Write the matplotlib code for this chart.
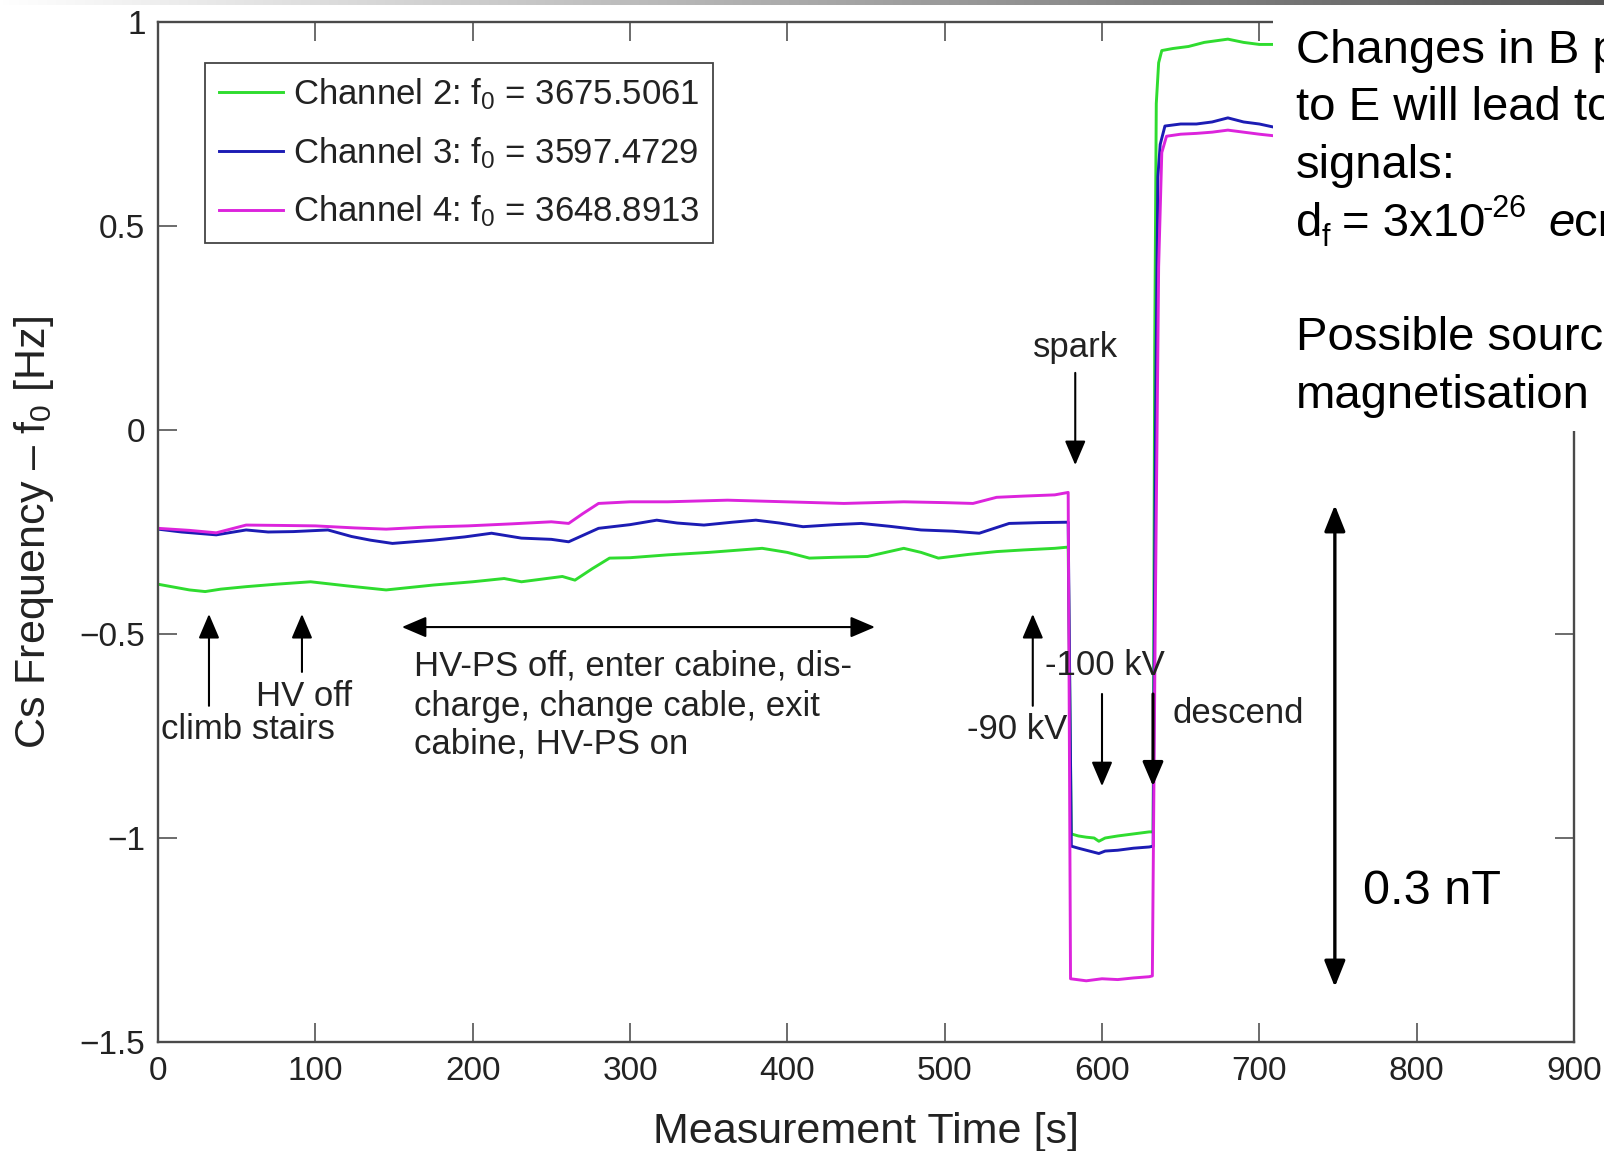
import numpy as np
import matplotlib
matplotlib.use("Agg")
import matplotlib.pyplot as plt
from matplotlib.patches import Rectangle

plt.rcParams['font.family'] = ['Liberation Sans', 'DejaVu Sans']
plt.rcParams['mathtext.fontset'] = 'custom'
plt.rcParams['mathtext.rm'] = 'Liberation Sans'
plt.rcParams['mathtext.it'] = 'Liberation Sans:italic'
plt.rcParams['mathtext.bf'] = 'Liberation Sans:bold'

# ---- measured frequency offsets (Hz) vs. time (s) ----
t_ch2 = [0, 10, 20, 30, 40, 56, 75, 97, 120, 145, 160, 175, 200, 220, 231, 245, 257, 265,
         276, 287, 300, 324, 350, 384, 400, 414, 430, 451, 474, 485, 496, 515, 533, 550,
         570, 578.5, 580.5, 585, 590, 595, 598, 602, 610, 620, 630, 632.5, 633.5, 634.5,
         636, 638, 645, 655, 665, 680, 690, 700, 712]
v_ch2 = [-0.378, -0.385, -0.392, -0.396, -0.39, -0.384, -0.378, -0.372, -0.382, -0.392,
         -0.386, -0.38, -0.372, -0.364, -0.372, -0.365, -0.359, -0.368, -0.34, -0.314,
         -0.313, -0.306, -0.300, -0.290, -0.300, -0.314, -0.312, -0.310, -0.290, -0.300,
         -0.314, -0.305, -0.298, -0.294, -0.290, -0.287, -0.99, -0.995, -0.998, -1.0,
         -1.008, -1.0, -0.995, -0.99, -0.985, -0.985, 0.2, 0.8, 0.9, 0.93, 0.935, 0.94,
         0.95, 0.958, 0.95, 0.945, 0.945]

t_ch3 = [0, 15, 37, 56, 70, 86, 108, 123, 135, 149, 175, 195, 212, 231, 250, 261, 280,
         300, 317, 330, 347, 365, 380, 395, 410, 430, 447, 465, 485, 505, 522, 541, 560,
         578.5, 580.5, 585, 590, 598, 602, 610, 620, 630, 632.5, 634, 635.5, 637, 640,
         650, 660, 670, 680, 690, 700, 712]
v_ch3 = [-0.243, -0.25, -0.257, -0.245, -0.25, -0.249, -0.245, -0.261, -0.27, -0.278,
         -0.27, -0.262, -0.253, -0.265, -0.268, -0.274, -0.241, -0.232, -0.221, -0.228,
         -0.233, -0.226, -0.221, -0.228, -0.237, -0.232, -0.229, -0.236, -0.245, -0.248,
         -0.253, -0.229, -0.227, -0.226, -1.02, -1.025, -1.03, -1.038, -1.032, -1.03,
         -1.025, -1.022, -1.02, 0.0, 0.62, 0.70, 0.745, 0.75, 0.75, 0.755, 0.765, 0.755,
         0.75, 0.74]

t_ch4 = [0, 20, 37, 56, 80, 100, 125, 145, 170, 197, 225, 250, 261, 270, 280, 300, 324,
         362, 399, 436, 474, 500, 518, 533, 550, 570, 578.5, 580, 590, 600, 610, 620, 630,
         632, 634, 636, 638, 641, 650, 660, 670, 680, 690, 700, 712]
v_ch4 = [-0.241, -0.246, -0.252, -0.233, -0.234, -0.235, -0.24, -0.243, -0.238, -0.235,
         -0.23, -0.225, -0.229, -0.205, -0.18, -0.176, -0.176, -0.172, -0.176, -0.18,
         -0.176, -0.178, -0.18, -0.165, -0.162, -0.159, -0.153, -1.345, -1.35, -1.345,
         -1.347, -1.343, -1.34, -1.338, -0.4, 0.4, 0.68, 0.72, 0.725, 0.727, 0.73, 0.735,
         0.73, 0.725, 0.72]

labels = ['Channel 2: f$_0$ = 3675.5061',
          'Channel 3: f$_0$ = 3597.4729',
          'Channel 4: f$_0$ = 3648.8913']
colors = ['#2fdc2f', '#1c1cb4', '#dc24dc']

x_ticks = [0, 100, 200, 300, 400, 500, 600, 700, 800, 900]
y_ticks = [-1.5, -1, -0.5, 0, 0.5, 1]

# ---- figure ----
W, H = 1604, 1151
fig = plt.figure(figsize=(W / 100, H / 100), dpi=100)
fig.patch.set_facecolor('white')

ax = fig.add_axes([158 / W, 1 - 1042 / H, 1416 / W, 1020 / H])
for t, v, c, lab in zip([t_ch2, t_ch3, t_ch4], [v_ch2, v_ch3, v_ch4], colors, labels):
    ax.plot(t, v, color=c, lw=2.1, label=lab, solid_joinstyle='round')

ax.set_xlim(0, 900)
ax.set_ylim(-1.5, 1)
ax.set_xticks(x_ticks)
ax.set_yticks(y_ticks)
ax.set_xticklabels([str(v) for v in x_ticks])
ax.set_yticklabels(['\u22121.5', '\u22121', '\u22120.5', '0', '0.5', '1'])
ax.tick_params(direction='in', top=True, right=True, length=14, width=1.1,
               color='#444444', labelsize=24, labelcolor='#222222')
ax.tick_params(axis='x', pad=10)
ax.tick_params(axis='y', pad=9)
for s in ax.spines.values():
    s.set_color('#4a4a4a')
    s.set_linewidth(1.7)

ax.set_xlabel('Measurement Time [s]', fontsize=31, color='#222222', labelpad=18)
ax.set_ylabel('Cs Frequency \u2013 f$_0$ [Hz]', fontsize=31, color='#222222', labelpad=17)

leg = ax.legend(loc='upper left', bbox_to_anchor=(0.0332, 0.9598), borderaxespad=0,
                fontsize=25, handlelength=1.87, handletextpad=0.26, borderpad=0.39,
                labelspacing=0.66, fancybox=False, framealpha=1, edgecolor='#444444')
leg.get_frame().set_linewidth(1.3)
for txt in leg.get_texts():
    txt.set_color('#222222')

# ---- event annotations ----
akw = dict(arrowstyle='-|>,head_length=0.75,head_width=0.32', color='black', lw=1.5,
           shrinkA=0, shrinkB=0, mutation_scale=20)
ann_fs = 25
tc = '#222222'

def arrow(x0, y0, x1, y1, **kw):
    props = dict(akw)
    props.update(kw)
    ax.annotate('', xy=(x1, y1), xytext=(x0, y0), arrowprops=props, zorder=6)

arrow(32.4, -0.676, 32.4, -0.451)      # climb stairs
arrow(91.5, -0.593, 91.5, -0.451)      # HV off
arrow(556, -0.676, 556, -0.451)        # -90 kV
arrow(583, 0.140, 583, -0.086)         # spark
arrow(600, -0.647, 600, -0.873)        # -100 kV
arrow(632.4, -0.647, 632.4, -0.873, lw=2.2)  # descend
ax.annotate('', xy=(455.7, -0.483), xytext=(155, -0.483), zorder=6,
            arrowprops=dict(akw, arrowstyle='<|-|>,head_length=0.75,head_width=0.32'))

ax.text(57, -0.733, 'climb stairs', fontsize=ann_fs, color=tc, ha='center', va='center')
ax.text(93, -0.654, 'HV off', fontsize=ann_fs, color=tc, ha='center', va='center')
for yy, s in zip([-0.579, -0.677, -0.770],
                 ['HV-PS off, enter cabine, dis-', 'charge, change cable, exit',
                  'cabine, HV-PS on']):
    ax.text(163, yy, s, fontsize=ann_fs, color=tc, ha='left', va='center')
ax.text(578, -0.734, '-90 kV', fontsize=ann_fs, color=tc, ha='right', va='center')
ax.text(564, -0.578, '-100 kV', fontsize=ann_fs, color=tc, ha='left', va='center')
ax.text(645, -0.696, 'descend', fontsize=ann_fs, color=tc, ha='left', va='center')
ax.text(583, 0.201, 'spark', fontsize=ann_fs, color=tc, ha='center', va='center')

# ---- slide overlay: note panel and field scale ----
fig.add_artist(Rectangle((1273 / W, 1 - 431 / H), (W - 1273) / W, 431 / H,
                         transform=fig.transFigure, facecolor='white',
                         edgecolor='none', zorder=5))

def note(x, yb, s, size=34, **kw):
    fig.text(x / W, 1 - yb / H, s, fontsize=size, color='black', ha='left',
             va='baseline', zorder=6, **kw)

for yb, s in [(63, 'Changes in B p'), (120.5, 'to E will lead to'), (178, 'signals:'),
              (350.5, 'Possible sourc'), (408, 'magnetisation')]:
    note(1296, yb, s)
# d_f = 3x10^-26 ecm, set piece by piece
note(1296, 235.5, 'd')
note(1322, 246, 'f', size=22)
note(1342, 235.5, '= 3x10')
note(1483, 217, '-26', size=22)
note(1548, 235.5, 'e', style='italic')
note(1574, 235.5, 'cm')

ax.annotate('', xy=(748, -0.184), xytext=(748, -1.365), zorder=6,
            arrowprops=dict(arrowstyle='<|-|>,head_length=0.8,head_width=0.32',
                            color='black', lw=2.4, shrinkA=0, shrinkB=0,
                            mutation_scale=20))
ax.text(766, -1.13, '0.3 nT', fontsize=35, color='black', ha='left', va='center')

# top title-bar gradient
gax = fig.add_axes([0, 1 - 5 / H, 1, 5 / H], zorder=7)
grad = np.linspace(1.0, 0.33, 512)[None, :]
gax.imshow(np.dstack([grad, grad, grad]), aspect='auto', extent=(0, 1, 0, 1))
gax.set_axis_off()

fig.savefig('out.png', dpi=100, facecolor='white')
